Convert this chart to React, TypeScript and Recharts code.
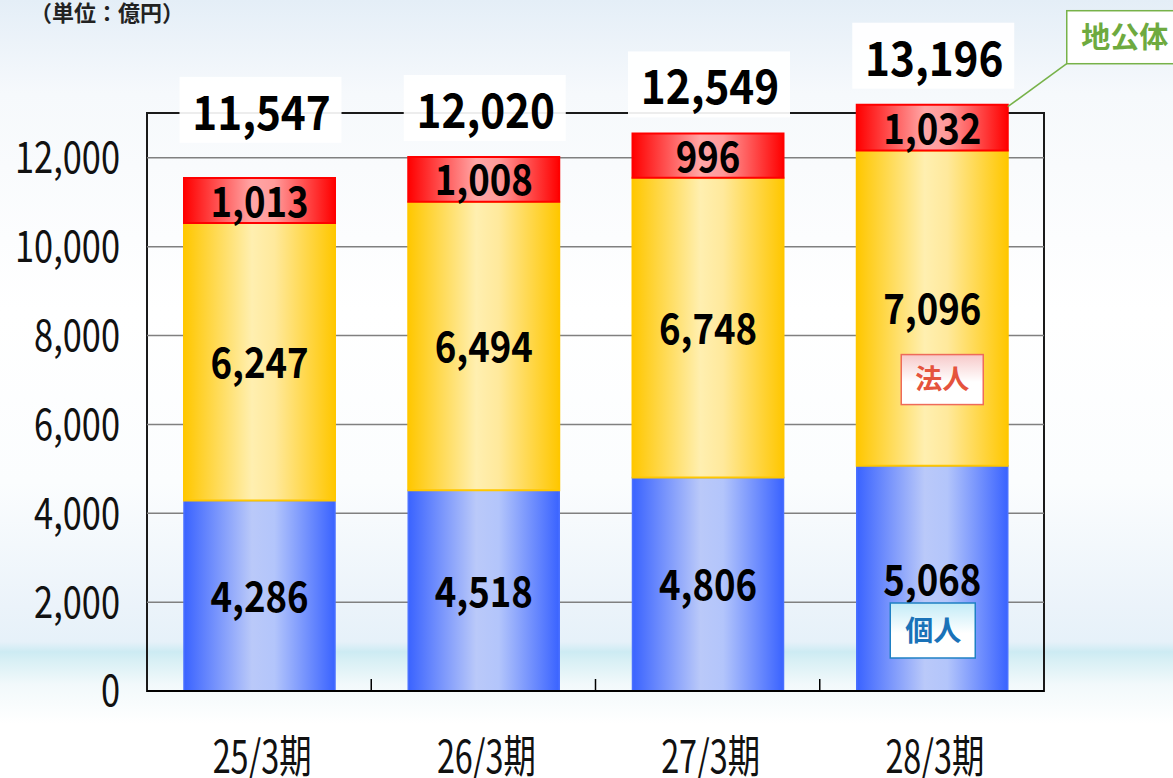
import { Bar, BarChart, CartesianGrid, LabelList, XAxis, YAxis } from 'recharts';

const periods = ['25/3期', '26/3期', '27/3期', '28/3期'];
const kojin = [4286, 4518, 4806, 5068];
const hojin = [6247, 6494, 6748, 7096];
const chikotai = [1013, 1008, 996, 1032];
const totals = [11547, 12020, 12549, 13196];
const yTicks = [0, 2000, 4000, 6000, 8000, 10000, 12000];
const segmentNames = ['個人', '法人', '地公体'];

const data = periods.map((period, i) => ({
  period,
  kojin: kojin[i],
  hojin: hojin[i],
  chikotai: chikotai[i],
}));

const W = 1173;
const H = 778;
const PLOT_LEFT = 147;
const PLOT_RIGHT = 1044;
const PLOT_TOP = 69;
const PLOT_BOTTOM = 691;
const Y_MAX = 14000;
const PX = (PLOT_BOTTOM - PLOT_TOP) / Y_MAX;
const BAND = (PLOT_RIGHT - PLOT_LEFT) / periods.length;
const FONT = '"Noto Sans CJK JP", "Noto Sans", sans-serif';
const fmt = (v: number) => v.toLocaleString('en-US');

// text squeezed horizontally, the reference uses a narrow face
const Txt = ({ x, y, size, sx = 1, weight = 400, fill = '#000', anchor = 'middle', dy = '0.36em', children }: any) => (
  <text
    transform={`translate(${x},${y}) scale(${sx},1)`}
    x={0}
    y={0}
    dy={dy}
    textAnchor={anchor}
    fontSize={size}
    fontWeight={weight}
    fill={fill}
    fontFamily={FONT}
  >
    {children}
  </text>
);

const YTick = ({ y, payload }: any) => (
  <Txt x={120} y={y} size={43} sx={0.8} anchor="end" fill="#111">
    {fmt(payload.value)}
  </Txt>
);

const PeriodTick = ({ x, payload, index }: any) => {
  const edge = x + BAND / 2;
  return (
    <g>
      <Txt x={x + 3} y={773} size={45} sx={0.72} dy={0} fill="#111">
        {payload.value}
      </Txt>
      {index < periods.length - 1 && (
        <line x1={edge} x2={edge} y1={PLOT_BOTTOM} y2={PLOT_BOTTOM - 12} stroke="#000" strokeWidth={1.5} />
      )}
    </g>
  );
};

const segText = (cx: number, cy: number, value: number) => (
  <Txt x={cx} y={cy} size={42} sx={0.87} weight={700}>
    {fmt(value)}
  </Txt>
);

const KojinLabel = ({ x, y, width, height, value, index }: any) => {
  const cx = x + width / 2;
  const bottom = y + height;
  return (
    <g>
      {segText(cx, y + height / 2 + 1, value)}
      {index === periods.length - 1 && (
        <g>
          <rect x={cx - 42} y={bottom - 88} width={85} height={55} fill="url(#boxKojin)" stroke="#1f80c4" strokeWidth={1.5} />
          <Txt x={cx + 1} y={bottom - 60} size={28} weight={700} fill="#1a72b8">
            {segmentNames[0]}
          </Txt>
        </g>
      )}
    </g>
  );
};

const HojinLabel = ({ x, y, width, height, value, index }: any) => {
  const cx = x + width / 2;
  return (
    <g>
      {segText(cx, y + height / 2 + 1, value)}
      {index === periods.length - 1 && (
        <g>
          <rect x={cx - 31} y={y + 204} width={82} height={50} fill="url(#boxHojin)" stroke="#ee6b5a" strokeWidth={1.5} />
          <Txt x={cx + 10} y={y + 229} size={27} weight={700} fill="#e5533d">
            {segmentNames[1]}
          </Txt>
        </g>
      )}
    </g>
  );
};

const ChikotaiLabel = ({ x, y, width, height, value, index }: any) => {
  const cx = x + width / 2;
  const y12000 = PLOT_BOTTOM - 12000 * PX;
  const ty = Math.min(y - 46, y12000 - 45);
  const last = index === periods.length - 1;
  return (
    <g>
      {segText(cx, y + height / 2 + 1, value)}
      <rect x={cx - 80} y={ty - 36} width={162} height={66} fill="#ffffff" fillOpacity={0.92} />
      <Txt x={cx + 2} y={ty} size={47} sx={0.9} weight={700}>
        {fmt(totals[index])}
      </Txt>
      {last && (
        <g>
          <line x1={x + width} y1={y + 2} x2={x + width + 59} y2={y - 41} stroke="#77b249" strokeWidth={1.5} />
          <rect x={x + width + 59} y={y - 94} width={130} height={53} fill="#ffffff" stroke="#77b249" strokeWidth={1.5} />
          <Txt x={x + width + 117} y={y - 67} size={29} weight={700} fill="#6eaa3f">
            {segmentNames[2]}
          </Txt>
        </g>
      )}
    </g>
  );
};

export default function App() {
  return (
    <div
      style={{
        position: 'absolute',
        left: 0,
        top: 0,
        width: W,
        height: H,
        overflow: 'hidden',
        fontFamily: FONT,
        background:
          'linear-gradient(to bottom, #e4eef7 0%, #f6f9fc 12%, #ffffff 40%, #fbfdfe 62%, #ebf3fa 78%, #e6f1f9 82.5%, #cdebf3 83.8%, #d9f0f5 85%, #f2f9fb 88%, #ffffff 93%, #ffffff 100%)',
      }}
    >
      <div
        style={{
          position: 'absolute',
          left: PLOT_LEFT - 1,
          top: PLOT_BOTTOM - 13000 * PX - 1,
          width: PLOT_RIGHT - PLOT_LEFT + 2,
          height: 13000 * PX + 2,
          border: '2px solid #1a1a1a',
          boxSizing: 'border-box',
        }}
      />
      <div style={{ position: 'absolute', left: 0, top: 0 }}>
        <BarChart
          width={W}
          height={H}
          data={data}
          margin={{ top: PLOT_TOP, right: W - PLOT_RIGHT, bottom: 0, left: 0 }}
          barSize={151}
        >
          <defs>
            <linearGradient id="gKojin" x1="0" y1="0" x2="1" y2="0">
              <stop offset="0%" stopColor="#3a63ff" />
              <stop offset="45%" stopColor="#bac9f9" />
              <stop offset="60%" stopColor="#b3c5fb" />
              <stop offset="100%" stopColor="#3a63ff" />
            </linearGradient>
            <linearGradient id="gHojin" x1="0" y1="0" x2="1" y2="0">
              <stop offset="0%" stopColor="#ffc700" />
              <stop offset="45%" stopColor="#ffefb0" />
              <stop offset="60%" stopColor="#ffe99c" />
              <stop offset="100%" stopColor="#ffc700" />
            </linearGradient>
            <linearGradient id="gChikotai" x1="0" y1="0" x2="1" y2="0">
              <stop offset="0%" stopColor="#ff0000" />
              <stop offset="45%" stopColor="#ffa6a6" />
              <stop offset="60%" stopColor="#ff9a9a" />
              <stop offset="100%" stopColor="#ff0000" />
            </linearGradient>
            <linearGradient id="boxKojin" x1="0" y1="0" x2="0" y2="1">
              <stop offset="0%" stopColor="#c2ebf7" />
              <stop offset="55%" stopColor="#ffffff" />
            </linearGradient>
            <linearGradient id="boxHojin" x1="0" y1="0" x2="0" y2="1">
              <stop offset="0%" stopColor="#f7c9c9" />
              <stop offset="55%" stopColor="#ffffff" />
            </linearGradient>
          </defs>
          <text x={30} y={21} fontSize={22} fontWeight={700} fill="#222" fontFamily={FONT}>
            （単位：億円）
          </text>
          <CartesianGrid vertical={false} horizontalValues={yTicks} stroke="#808080" strokeWidth={1.5} />
          <XAxis
            dataKey="period"
            height={H - PLOT_BOTTOM}
            axisLine={{ stroke: '#000', strokeWidth: 2 }}
            tickLine={false}
            interval={0}
            tick={<PeriodTick />}
          />
          <YAxis
            type="number"
            domain={[0, Y_MAX]}
            ticks={yTicks}
            width={PLOT_LEFT}
            axisLine={false}
            tickLine={false}
            tick={<YTick />}
          />
          <Bar dataKey="kojin" stackId="a" fill="url(#gKojin)" stroke="#4a70ff" strokeWidth={1.5} isAnimationActive={false}>
            <LabelList dataKey="kojin" content={<KojinLabel />} />
          </Bar>
          <Bar dataKey="hojin" stackId="a" fill="url(#gHojin)" stroke="#ffc700" strokeWidth={2} isAnimationActive={false}>
            <LabelList dataKey="hojin" content={<HojinLabel />} />
          </Bar>
          <Bar dataKey="chikotai" stackId="a" fill="url(#gChikotai)" stroke="#ff0000" strokeWidth={2} isAnimationActive={false}>
            <LabelList dataKey="chikotai" content={<ChikotaiLabel />} />
          </Bar>
        </BarChart>
      </div>
    </div>
  );
}
